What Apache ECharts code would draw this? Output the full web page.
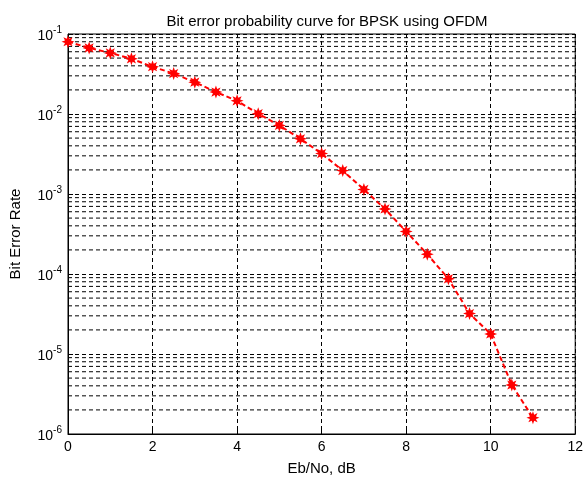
<!DOCTYPE html>
<html>
<head>
<meta charset="utf-8">
<script src="https://cdn.jsdelivr.net/npm/echarts@6/dist/echarts.min.js"></script>
<style>
  html, body { margin: 0; padding: 0; background: #fff; }
  #chart { width: 586px; height: 481px; }
</style>
</head>
<body>
<div id="chart"></div>
<script>
// --- data ---
const ebNo = [0, 0.5, 1, 1.5, 2, 2.5, 3, 3.5, 4, 4.5, 5, 5.5, 6, 6.5, 7, 7.5, 8, 8.5, 9, 9.5, 10, 10.5, 11];
const ber = [0.08, 0.067, 0.058, 0.049, 0.039, 0.032, 0.025, 0.0188, 0.0146, 0.0101, 0.0072, 0.0049,
             0.0032, 0.00196, 0.00114, 0.00065, 0.00034, 0.000177, 0.000087, 0.000032, 0.0000178,
             0.0000041, 0.0000016];
const decades = [-6, -5, -4, -3, -2];
const minorSteps = [2, 3, 4, 5, 6, 7, 8, 9];
const xRange = [0, 12];

const FONT = "'Liberation Sans', Arial, sans-serif";

// MATLAB-like '*' marker: chunky 8-arm star
function starPath() {
    const pts = [];
    for (let i = 0; i < 16; i++) {
        const a = i * Math.PI / 8;
        const r = i % 2 === 0 ? 10 : 5;
        pts.push((r * Math.sin(a)).toFixed(2) + ' ' + (-r * Math.cos(a)).toFixed(2));
    }
    return 'path://M' + pts.join(' L') + ' Z';
}

const gridDash = { color: '#000', width: 1, type: [4, 3] };

// minor log grid lines (2..9 x 10^d), one flat series each
const minorSeries = [];
for (const d of decades) {
    for (const k of minorSteps) {
        const v = k * Math.pow(10, d);
        minorSeries.push({
            type: 'line',
            silent: true,
            z: 1,
            symbol: 'none',
            lineStyle: gridDash,
            data: xRange.map(x => [x, v])
        });
    }
}

const chart = echarts.init(document.getElementById('chart'));

chart.setOption({
    backgroundColor: '#fff',
    animation: false,
    title: {
        text: 'Bit error probability curve for BPSK using OFDM',
        left: 322,
        textAlign: 'center',
        top: 9,
        textStyle: { fontFamily: FONT, fontSize: 15, fontWeight: 'normal', color: '#000' }
    },
    grid: {
        left: 66, right: 8, top: 34, bottom: 40,
        show: true, borderColor: '#000', borderWidth: 1, backgroundColor: 'transparent'
    },
    xAxis: {
        type: 'value',
        min: xRange[0], max: xRange[1], interval: 2,
        name: 'Eb/No, dB',
        nameLocation: 'middle',
        nameGap: 27,
        nameTextStyle: { fontFamily: FONT, fontSize: 15, color: '#000' },
        axisLine: { lineStyle: { color: '#000' } },
        axisTick: { inside: true, length: 5, lineStyle: { color: '#000' } },
        axisLabel: { fontFamily: FONT, fontSize: 14, color: '#000', margin: 6 },
        splitLine: { show: true, lineStyle: gridDash }
    },
    yAxis: {
        type: 'log',
        logBase: 10,
        min: 1e-6, max: 1e-1,
        name: 'Bit Error Rate',
        nameLocation: 'middle',
        nameGap: 45,
        nameTextStyle: { fontFamily: FONT, fontSize: 15, color: '#000' },
        axisLine: { lineStyle: { color: '#000' } },
        axisTick: { inside: true, length: 5, lineStyle: { color: '#000' } },
        axisLabel: {
            fontFamily: FONT, color: '#000', margin: 6,
            formatter: v => '{b|10}{s|' + Math.round(Math.log10(v)) + '}',
            rich: {
                b: { fontFamily: FONT, fontSize: 14, color: '#000', lineHeight: 18, verticalAlign: 'bottom' },
                s: { fontFamily: FONT, fontSize: 10, color: '#000', lineHeight: 18, verticalAlign: 'top', padding: [0, 0, 8, 0] }
            }
        },
        splitLine: { show: true, lineStyle: gridDash }
    },
    series: minorSeries.concat([
        {
            name: 'BER',
            type: 'line',
            z: 5,
            data: ebNo.map((x, i) => [x, ber[i]]),
            lineStyle: { color: '#ff0000', width: 2, type: [5, 3] },
            itemStyle: { color: '#ff0000' },
            symbol: starPath(),
            symbolSize: 13,
            showSymbol: true
        }
    ])
});
</script>
</body>
</html>
